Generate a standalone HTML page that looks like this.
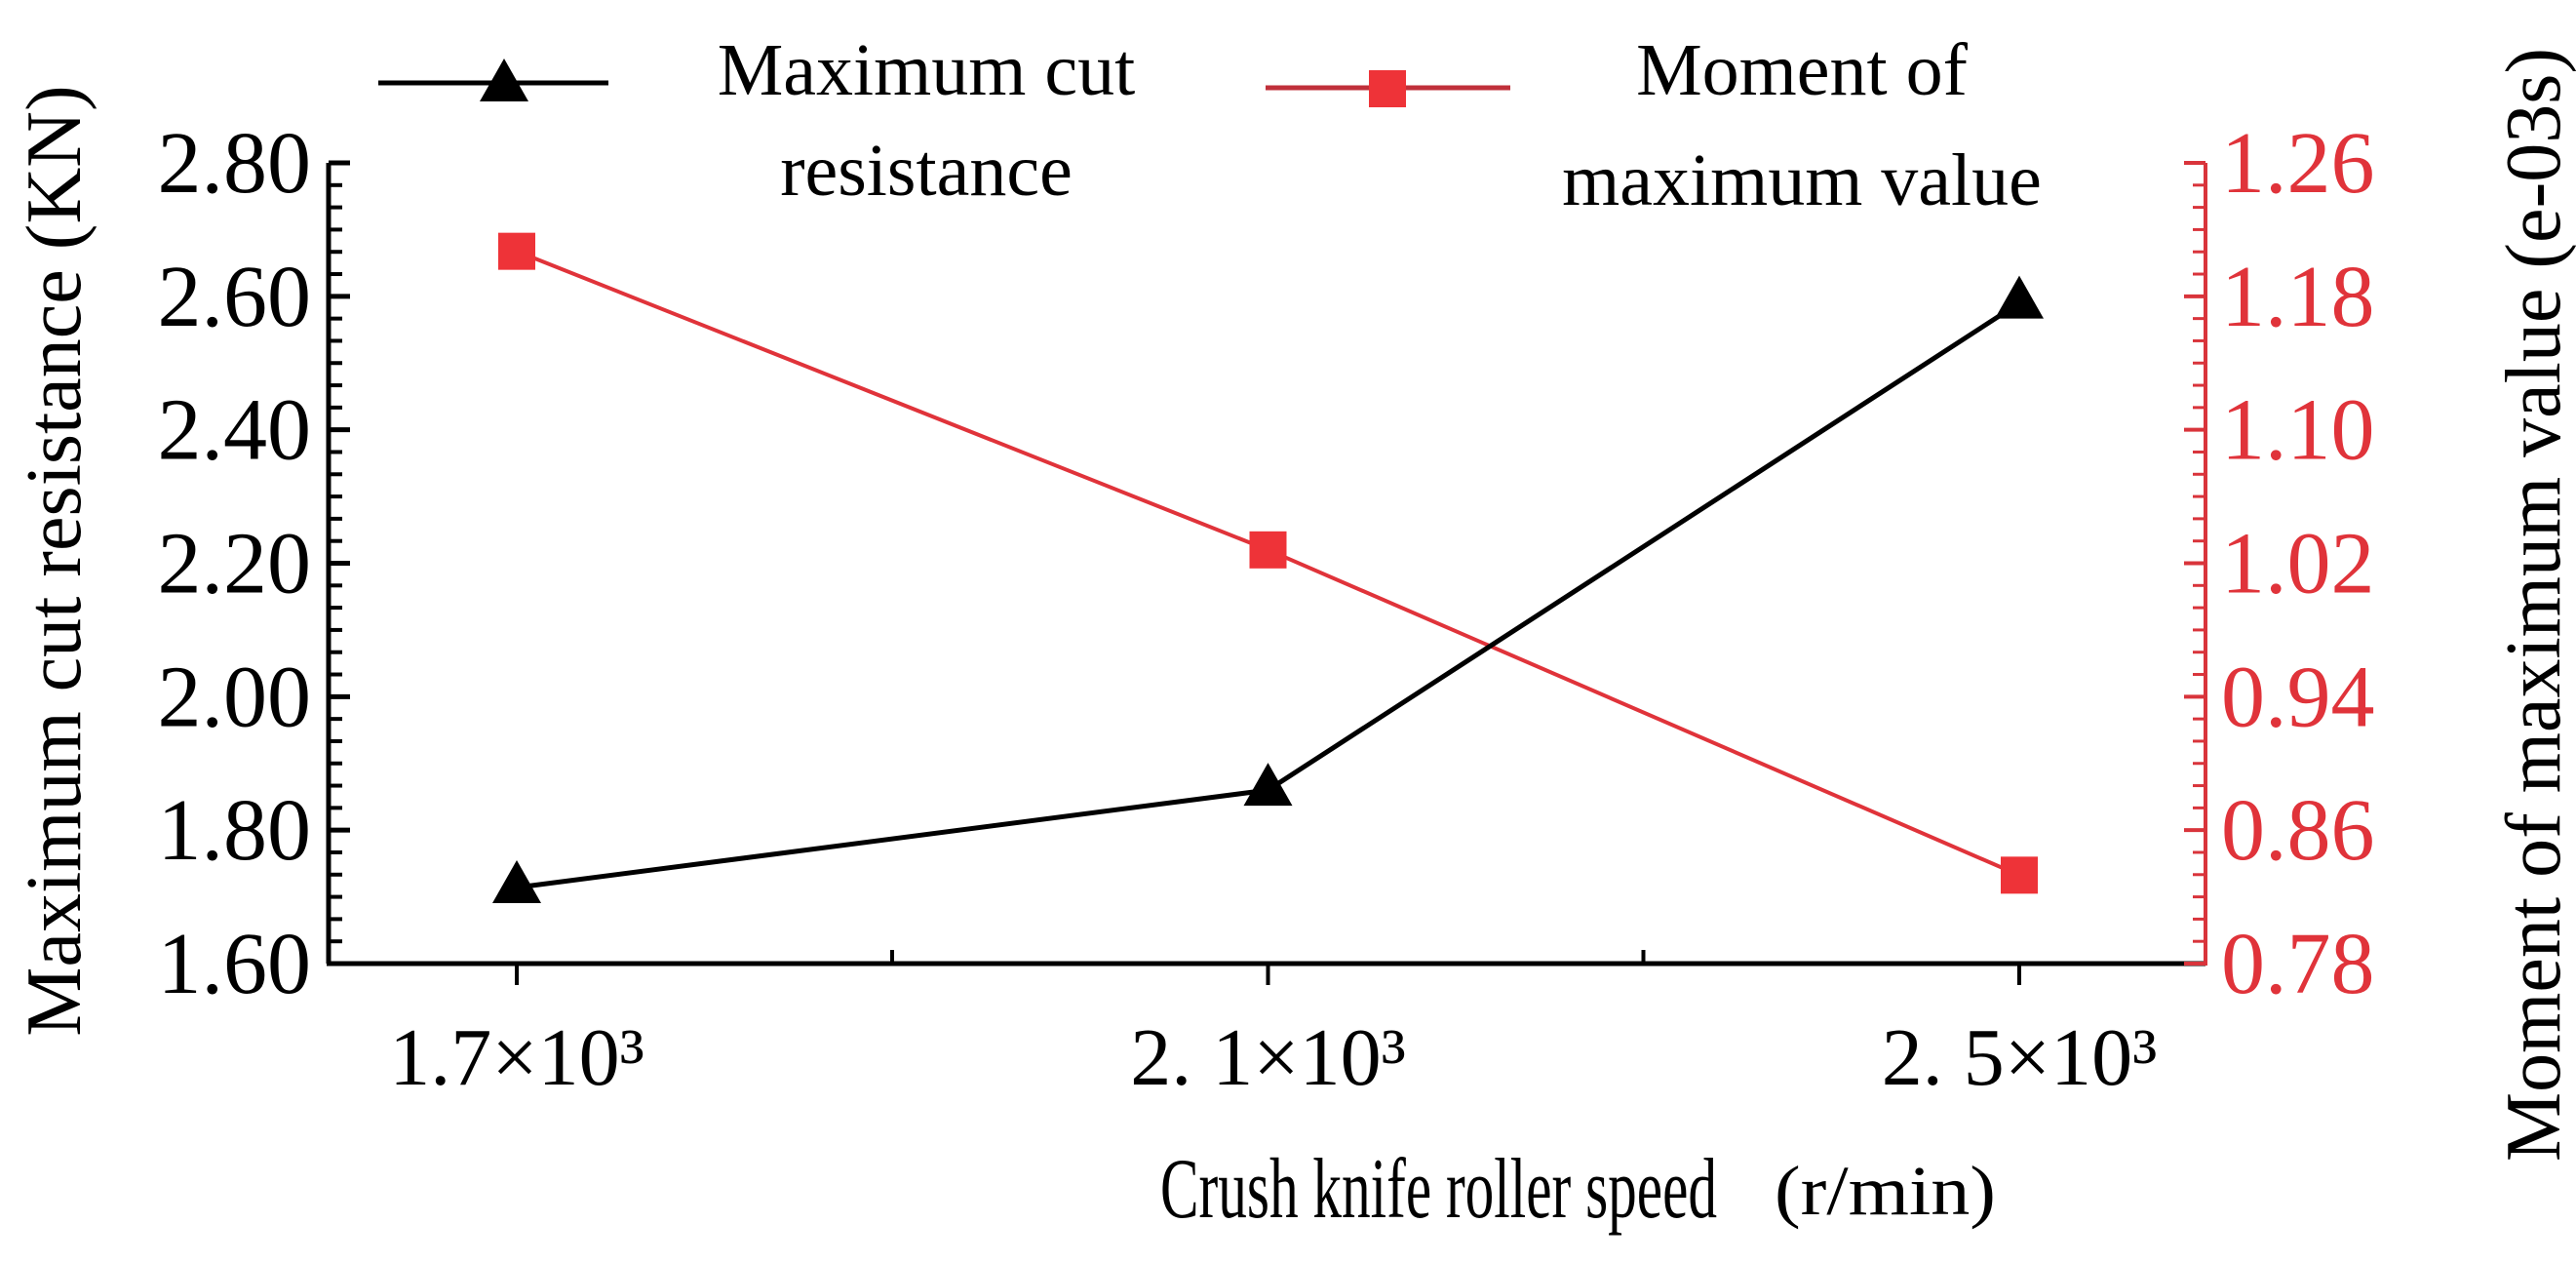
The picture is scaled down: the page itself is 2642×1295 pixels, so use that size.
<!DOCTYPE html>
<html><head><meta charset="utf-8"><style>
html,body{margin:0;padding:0;background:#fff;}
svg{display:block;font-family:"Liberation Serif",serif;}
</style></head><body>
<svg id="chart" width="2642" height="1295" viewBox="0 0 2642 1295" xmlns="http://www.w3.org/2000/svg">
<g id="axes"></g>
<g id="series"></g>
<g>
  <g>
    <line x1="388" y1="85" x2="624" y2="85" stroke="#000" stroke-width="5"/>
    <polygon points="517,60 542,104 492,104" fill="#000"/>
    <text x="950" y="97" font-size="76" text-anchor="middle">Maximum cut</text>
    <text x="950" y="200" font-size="76" text-anchor="middle">resistance</text>
  </g>
  <g>
    <line x1="1298" y1="90" x2="1549" y2="90" stroke="#c0303a" stroke-width="5"/>
    <rect x="1404" y="72" width="38" height="38" fill="#ee3338"/>
    <text x="1848" y="97" font-size="76" text-anchor="middle">Moment of</text>
    <text x="1848" y="210" font-size="76" text-anchor="middle">maximum value</text>
  </g>
</g>
<text x="1190" y="1248" font-size="88" textLength="571" lengthAdjust="spacingAndGlyphs">Crush knife roller speed</text>
<text x="1820" y="1245" font-size="72" textLength="227" lengthAdjust="spacingAndGlyphs">(r/min)</text>
<text transform="translate(82,575) rotate(-90)" font-size="80" text-anchor="middle">Maximum cut resistance (KN)</text>
<text transform="translate(2625,620) rotate(-90)" font-size="80" text-anchor="middle">Moment of maximum value (e-03s)</text>
</svg>
<script>
const categories = ["1.7×10³", "2. 1×10³", "2. 5×10³"];
const resistance = [1.714, 1.86, 2.59];
const moment = [1.207, 1.028, 0.833];
const leftTicks = ["1.60","1.80","2.00","2.20","2.40","2.60","2.80"];
const rightTicks = ["0.78","0.86","0.94","1.02","1.10","1.18","1.26"];

const NS = "http://www.w3.org/2000/svg";
const L = 337, R = 2262, T = 167, B = 988;
const xPos = i => 530 + i * 770.5;
const yL = v => B - (v - 1.6) / 1.2 * (B - T);
const yR = v => B - (v - 0.78) / 0.48 * (B - T);
function mk(tag, attrs, parent) {
  const e = document.createElementNS(NS, tag);
  for (const k in attrs) e.setAttribute(k, attrs[k]);
  parent.appendChild(e); return e;
}
const axes = document.getElementById('axes');
const series = document.getElementById('series');
let e;
e = mk('line', {x1:L, y1:T, x2:L, y2:B, stroke:'#000', 'stroke-width':5}, axes);


e = mk('line', {x1:L-2, y1:B, x2:R, y2:B, stroke:'#000', 'stroke-width':5}, axes);


e = mk('line', {x1:R, y1:T, x2:R, y2:B+2, stroke:'#d9343b', 'stroke-width':4}, axes);


const stepPx = (B - T) / 6;
for (let i = 0; i < leftTicks.length; i++) {
  const y = yL(parseFloat(leftTicks[i]));
  e = mk('line', {x1:L, y1:y, x2:L+22, y2:y, stroke:'#000', 'stroke-width':5}, axes);
  
  
  const t = mk('text', {x:L-18, y:y+30, 'font-size':90, 'text-anchor':'end'}, axes);
  t.textContent = leftTicks[i];
  
  
  if (i < leftTicks.length - 1) for (let m = 1; m < 6; m++) {
    const ym = y - m * stepPx / 6;
    e = mk('line', {x1:L, y1:ym, x2:L+14, y2:ym, stroke:'#000', 'stroke-width':4}, axes);
    
    
  }
}
for (let i = 0; i < rightTicks.length; i++) {
  const y = yR(parseFloat(rightTicks[i]));
  e = mk('line', {x1:R, y1:y, x2:R-22, y2:y, stroke:'#d9343b', 'stroke-width':4}, axes);
  
  
  const t = mk('text', {x:R+16, y:y+30, 'font-size':90, fill:'#e0333a'}, axes);
  t.textContent = rightTicks[i];
  
  
  if (i < rightTicks.length - 1) for (let m = 1; m < 6; m++) {
    const ym = y - m * stepPx / 6;
    e = mk('line', {x1:R, y1:ym, x2:R-13, y2:ym, stroke:'#d9343b', 'stroke-width':3}, axes);
    
    
  }
}
for (let i = 0; i < categories.length; i++) {
  const x = xPos(i);
  e = mk('line', {x1:x, y1:B, x2:x, y2:B+22, stroke:'#000', 'stroke-width':4}, axes);
  
  
  const t = mk('text', {x:x, y:1112, 'font-size':84, 'text-anchor':'middle'}, axes);
  t.textContent = categories[i];
  
  
  if (i < categories.length - 1) {
    const xm = x + 385;
    e = mk('line', {x1:xm, y1:B, x2:xm, y2:B-14, stroke:'#000', 'stroke-width':4}, axes);
    
    
  }
}
let pts = moment.map((v, i) => xPos(i) + ',' + yR(v)).join(' ');
e = mk('polyline', {points:pts, fill:'none', stroke:'#e0333a', 'stroke-width':4}, series);


moment.forEach((v, i) => {
  const r = mk('rect', {x:xPos(i)-19, y:yR(v)-19, width:38, height:38, fill:'#ee3338'}, series);
  
  
});
pts = resistance.map((v, i) => xPos(i) + ',' + yL(v)).join(' ');
e = mk('polyline', {points:pts, fill:'none', stroke:'#000', 'stroke-width':5}, series);


resistance.forEach((v, i) => {
  const x = xPos(i), y = yL(v);
  const p = mk('polygon', {points:`${x},${y-28} ${x+25},${y+16} ${x-25},${y+16}`, fill:'#000'}, series);
  
  
});
</script>
</body></html>
